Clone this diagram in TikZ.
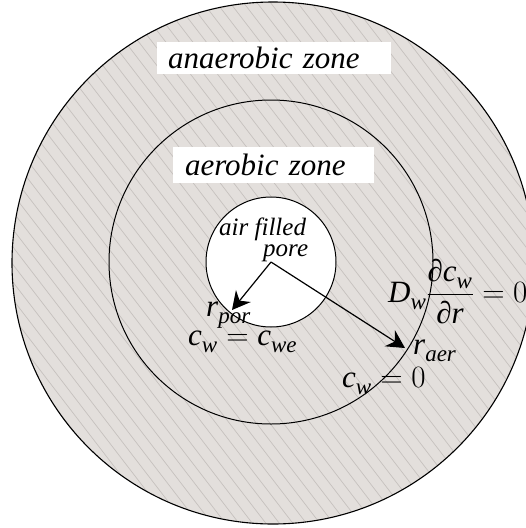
\RequirePackage{fix-cm}
\documentclass[tikz,border=0pt]{standalone}
\usepackage{amsmath}
\usepackage{fontspec}
\setmainfont{Liberation Serif}
\usetikzlibrary{arrows.meta}
\DeclareMathSizes{31}{31}{23}{17}
\definecolor{soilfill}{HTML}{E3DFDC}
\definecolor{hatchgray}{HTML}{C6C1BE}
% italic subscript, set a little lower than usual
\newcommand\lsub[1]{_{\raisebox{-3pt}{$\scriptstyle\mathit{#1}$}}}

\begin{document}
\begin{tikzpicture}[x=1pt, y=-1pt, >={Stealth[length=18pt, width=19pt, inset=6pt]},
  zonelabel/.style={fill=white, inner ysep=0pt, align=left,
    font=\fontsize{31}{36}\selectfont\itshape},
  porelabel/.style={anchor=base west, inner sep=0pt,
    font=\fontsize{25}{30}\selectfont\itshape},
  mathlabel/.style={anchor=base west, inner sep=0pt,
    font=\fontsize{31}{36}\selectfont},
  radius arrow/.style={->, line width=1.2pt}]
  \useasboundingbox (0,0) rectangle (526,528);
  \clip (0,0) rectangle (526,528);
  \coordinate (ctr) at (271,262);
  \coordinate (outerctr) at (273,263);

  % Soil around the pore, hatched
  \fill[soilfill, even odd rule] (outerctr) circle (261pt) (ctr) circle (65pt);
  \begin{scope}[even odd rule]
    \clip (outerctr) circle (261pt) (ctr) circle (65pt);
    \foreach \c in {-420,-406.5,...,540}
      \draw[hatchgray, line width=0.7pt] (\c,0) -- ++(406,528);
  \end{scope}

  % Zone boundaries
  \draw[line width=1.1pt] (outerctr) circle (261pt);
  \draw[line width=1pt] (ctr) circle (162pt);
  \draw[line width=1pt] (ctr) circle (65pt);

  % Zone labels
  \node[zonelabel, inner xsep=11pt, text width=212pt, minimum height=32pt] (anaer) at (274,58) {anaerobic zone};
  \node[zonelabel, inner xsep=12pt, text width=177pt, minimum height=36pt] (aer) at (273.5,165) {aerobic zone};
  \node[porelabel] (air) at (219,235) {air filled};
  \node[porelabel] (pore) at (263,256) {pore};

  % Radii
  \coordinate (porTip) at (232,310);
  \coordinate (aerTip) at (405,348);
  \draw[radius arrow] (ctr) -- (porTip);
  \draw[radius arrow] (ctr) -- (aerTip);

  % Boundary conditions
  \node[mathlabel] (rpor) at (206,316) {$\mathit{r}\lsub{por}$};
  \node[mathlabel] (cwe) at (188,345) {$\mathit{c}\lsub{w} = \mathit{c}\lsub{we}$};
  \node[mathlabel] (flux) at (388,302) {$\mathit{D}\lsub{w}\dfrac{\text{∂}\mathit{c}\lsub{w}}{\text{∂}\mathit{r}} = 0$};
  \node[mathlabel] (raer) at (413,354) {$\mathit{r}\lsub{aer}$};
  \node[mathlabel] (cw0) at (342,387) {$\mathit{c}\lsub{w} = 0$};
\end{tikzpicture}
\end{document}
